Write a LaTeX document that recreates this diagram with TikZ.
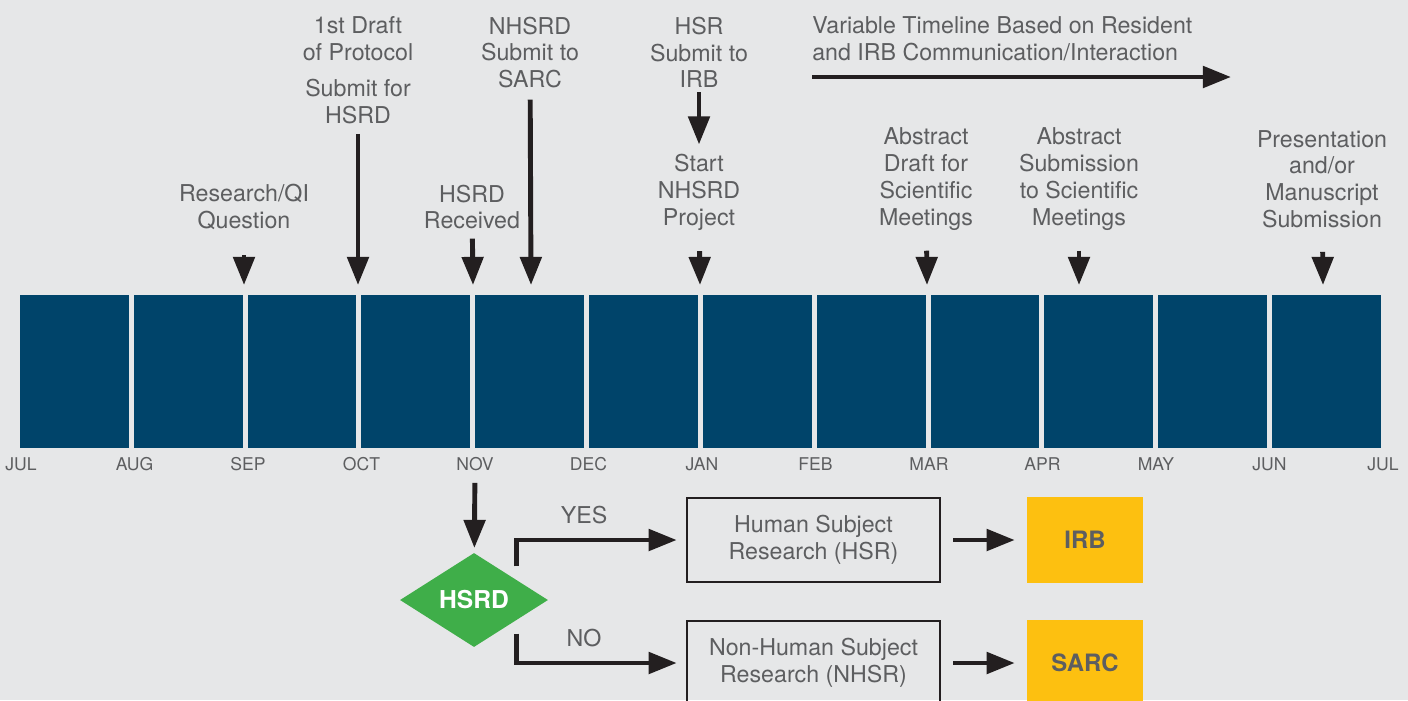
\documentclass[tikz,border=0pt]{standalone}
\usepackage{fontspec}
\setmainfont{TeX Gyre Heros}
\usepackage{tikz}
\usetikzlibrary{shapes.geometric, arrows.meta}
\definecolor{bggray}{HTML}{E6E7E8}
\definecolor{navy}{HTML}{00446A}
\definecolor{txtgray}{HTML}{5D5E60}
\definecolor{hsrdgreen}{HTML}{3FAE49}
\definecolor{gold}{HTML}{FDC010}
\definecolor{ink}{HTML}{231F20}
\tikzstyle{note} = [align=center, text=txtgray, font=\fontsize{16.5}{19}\selectfont, inner sep=0pt]
\tikzstyle{month} = [text=txtgray, font=\fontsize{12.5}{14}\selectfont, inner sep=0pt]
\tikzstyle{block} = [rectangle, fill=navy, minimum width=2.72cm, minimum height=3.83cm, inner sep=0pt]
\tikzstyle{decision} = [diamond, aspect=1.57, minimum width=3.7cm, minimum height=2.35cm, inner sep=0pt, fill=hsrdgreen, text=white, font=\fontsize{17.5}{19}\selectfont\bfseries]
\tikzstyle{process} = [rectangle, minimum width=6.33cm, minimum height=2.1cm, align=center, draw=ink, line width=1.4pt, text=txtgray, font=\fontsize{16.5}{19}\selectfont]
\tikzstyle{office} = [rectangle, minimum width=2.9cm, minimum height=2.15cm, fill=gold, text=txtgray, font=\fontsize{17}{19}\selectfont\bfseries]
\tikzstyle{arrow} = [draw=ink, line width=3.5pt, -{Triangle[width=15pt,length=20pt]}]

\begin{document}
\begin{tikzpicture}[x=0.025cm, y=-0.025cm]
		\fill [bggray] (0,0) rectangle (1408,700);
		\useasboundingbox (0,0) rectangle (1408,700);
		
		\foreach \i in {0,...,11}
			\node (blk\i) [block] at (74.4+113.83*\i, 371.5) {};
		\foreach \m [count=\i from 0] in {JUL,AUG,SEP,OCT,NOV,DEC,JAN,FEB,MAR,APR,MAY,JUN,JUL}
			\node (mon\i) [month] at (21+113.5*\i, 464) {\m};
		
		\coordinate (tsep) at (244,285);
		\coordinate (toct) at (358,285);
		\coordinate (tnov) at (473,285);
		\coordinate (tsarc) at (531,285);
		\coordinate (tjan) at (700,285);
		\coordinate (tmar) at (927,285);
		\coordinate (tapr) at (1079,285);
		\coordinate (tjun) at (1323,285);
		
		\node (rq) [note] at (244,207) {Research/QI\\Question};
		\node (draft) [note] at (358,38.5) {1st Draft\\of Protocol};
		\node (sub) [note] at (358,101.5) {Submit for\\HSRD};
		\node (recv) [note] at (472,207) {HSRD\\Received};
		\node (nhsrd) [note] at (530,52.5) {NHSRD\\Submit to\\SARC};
		\node (hsrirb) [note] at (699,52.5) {HSR\\Submit to\\IRB};
		\node (start) [note] at (699,192.5) {Start\\NHSRD\\Project};
		\node (abs1) [note] at (926,179) {Abstract\\Draft for\\Scientific\\Meetings};
		\node (abs2) [note] at (1079,179) {Abstract\\Submission\\to Scientific\\Meetings};
		\node (pres) [note] at (1322,179) {Presentation\\and/or\\Manuscript\\Submission};
		\node (var) [note, align=left, anchor=west] at (812,38.5) {Variable Timeline Based on Resident\\and IRB Communication/Interaction};
		\coordinate (vstart) at (812,77);
		\coordinate (vend) at (1231,77);
		
		\draw [arrow, shorten <=18pt] (rq) -- (tsep);
		\draw [arrow, shorten <=7pt] (sub) -- (toct);
		\draw [arrow, shorten <=6.5pt] (recv) -- (tnov);
		\draw [arrow, shorten <=8pt] (nhsrd) -- (tsarc);
		\draw [arrow, shorten <=3pt, shorten >=7pt] (hsrirb) -- (start);
		\draw [arrow, shorten <=14.5pt] (start) -- (tjan);
		\draw [arrow, shorten <=14.5pt] (abs1) -- (tmar);
		\draw [arrow, shorten <=14.5pt] (abs2) -- (tapr);
		\draw [arrow, shorten <=17pt] (pres) -- (tjun);
		\draw [arrow] (vstart) -- (vend);
		
		\node (dec) [decision] at (474,600) {HSRD};
		\node (hsr) [process] at (813.5,540) {Human Subject\\Research (HSR)};
		\node (nhsr) [process] at (813.5,663) {Non-Human Subject\\Research (NHSR)};
		\node (irb) [office] at (1085,540) {IRB};
		\node (sarc) [office] at (1085,663) {SARC};
		
		\draw [arrow, shorten <=8.5pt, shorten >=3.5pt] (mon4) -- (dec);
		\draw [arrow, shorten >=6.5pt] ([shift={(5,-10)}]dec.north east) |- node [pos=0.7, above=9.5pt, note] {YES} (hsr);
		\draw [arrow, shorten >=6.5pt] ([shift={(5,10)}]dec.south east) |- node [pos=0.7, above=9.5pt, note] {NO} (nhsr);
		\draw [arrow, shorten <=8.5pt, shorten >=8.5pt] (hsr) -- (irb);
		\draw [arrow, shorten <=8.5pt, shorten >=8.5pt] (nhsr) -- (sarc);
\end{tikzpicture}
\end{document}
